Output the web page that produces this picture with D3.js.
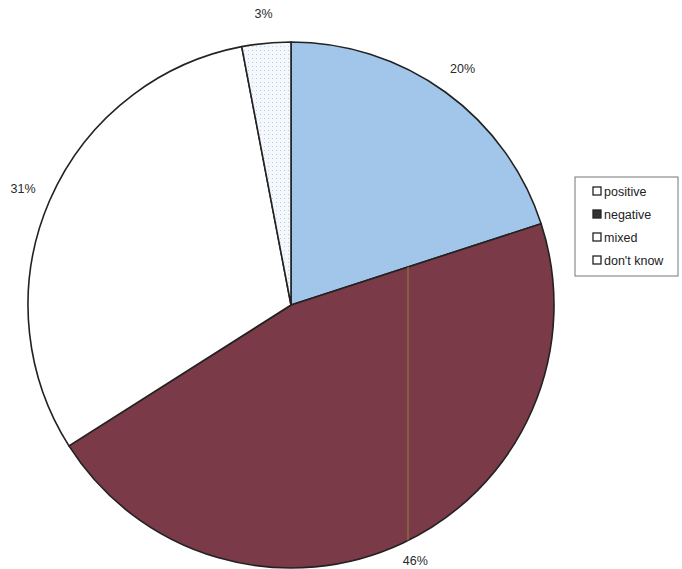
<!DOCTYPE html>
<html>
<head>
<meta charset="utf-8">
<script src="https://cdn.jsdelivr.net/npm/d3@7"></script>
<style>
  body { margin: 0; background: #fff; }
  text { font-family: "Liberation Sans", Arial, sans-serif; }
</style>
</head>
<body>
<script>
const categories = ["positive", "negative", "mixed", "don't know"];
const values = [20, 46, 31, 3];
const labels = ["20%", "46%", "31%", "3%"];
const colors = ["#a2c6ea", "#7a3a48", "#ffffff", "#eef3fa"];

const width = 682, height = 569;
const cx = 291, cy = 305, r = 263;

const svg = d3.select("body").append("svg")
  .attr("width", width)
  .attr("height", height);

const defs = svg.append("defs");
// faint dotted texture for the small slice
const pat = defs.append("pattern")
  .attr("id", "dots")
  .attr("width", 4).attr("height", 4)
  .attr("patternUnits", "userSpaceOnUse");
pat.append("rect").attr("width", 4).attr("height", 4).attr("fill", "#f4f7fc");
pat.append("rect").attr("x", 1).attr("y", 1).attr("width", 1).attr("height", 1).attr("fill", "#b9cde6");

const pie = d3.pie().sort(null).value(d => d.v);
const arcs = pie(categories.map((c, i) => ({ c: c, v: values[i], i: i })));

const arc = d3.arc().innerRadius(0).outerRadius(r);
const labelArc = d3.arc().innerRadius(292).outerRadius(292);

const g = svg.append("g").attr("transform", `translate(${cx},${cy})`);

g.selectAll("path.slice")
  .data(arcs)
  .enter().append("path")
  .attr("class", "slice")
  .attr("d", arc)
  .attr("fill", d => d.data.i === 3 ? "url(#dots)" : colors[d.data.i])
  .attr("stroke", "#222")
  .attr("stroke-width", 1.6)
  .attr("stroke-linejoin", "round");

// scanner streak across the negative slice
defs.append("clipPath").attr("id", "negclip")
  .append("path").attr("d", arc(arcs[1]));
g.append("line")
  .attr("clip-path", "url(#negclip)")
  .attr("x1", 117).attr("x2", 117)
  .attr("y1", -r).attr("y2", r)
  .attr("stroke", "#8a7a3a")
  .attr("stroke-opacity", 0.6)
  .attr("stroke-width", 2);

// labels outside the rim at the mid angle of each slice, kept inside the page
g.selectAll("text.lbl")
  .data(arcs)
  .enter().append("text")
  .attr("class", "lbl")
  .attr("text-anchor", "middle")
  .attr("font-size", 12.5)
  .attr("fill", "#2a2a2a")
  .attr("x", d => labelArc.centroid(d)[0])
  .attr("y", d => Math.min(labelArc.centroid(d)[1] + 4, height - cy - 4))
  .text(d => labels[d.data.i]);

// legend
const lg = svg.append("g").attr("transform", "translate(575,177)");
lg.append("rect")
  .attr("width", 103).attr("height", 99)
  .attr("fill", "#fff")
  .attr("stroke", "#777")
  .attr("stroke-width", 1);

const rows = lg.selectAll("g.row")
  .data(categories)
  .enter().append("g")
  .attr("class", "row")
  .attr("transform", (d, i) => `translate(18,${14 + i * 23})`);

rows.append("rect")
  .attr("x", 0).attr("y", -4)
  .attr("width", 8).attr("height", 8)
  .attr("fill", (d, i) => i === 1 ? "#333" : "#fff")
  .attr("stroke", "#222")
  .attr("stroke-width", 1.3);

rows.append("text")
  .attr("x", 11).attr("y", 4.5)
  .attr("font-size", 12.5)
  .attr("fill", "#222")
  .text(d => d);
</script>
</body>
</html>
